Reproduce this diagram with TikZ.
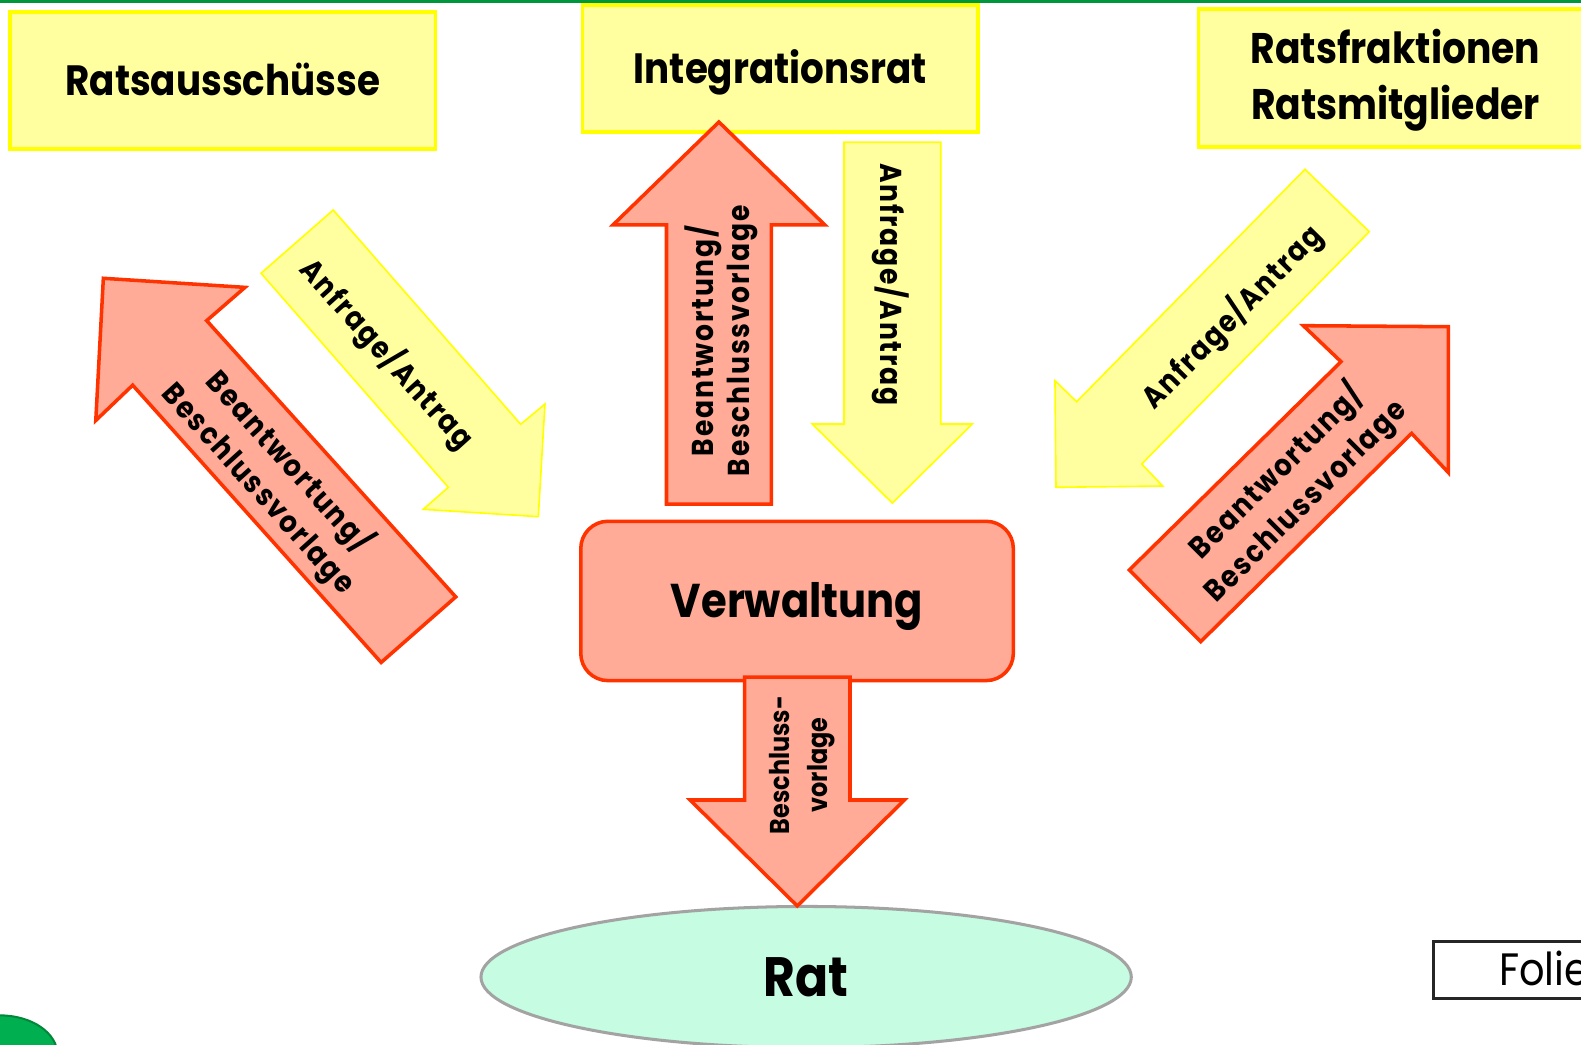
\documentclass[tikz,border=0pt]{standalone}
\usepackage{fontspec}
\usetikzlibrary{shapes.geometric}
\newfontfamily\fbold{Poppins Bold}[FakeStretch=0.88]
\newfontfamily\fboldls{Poppins Bold}[FakeStretch=0.88,LetterSpace=6]
\newfontfamily\freg{Poppins}[FakeStretch=0.88]
\newcommand\fsz[2]{\fontsize{#1}{#2}\selectfont}
\definecolor{ylfill}{HTML}{FFFFA0}
\definecolor{ylline}{HTML}{FFFF00}
\definecolor{rdfill}{HTML}{FFAB98}
\definecolor{rdline}{HTML}{FF3300}
\definecolor{mint}{HTML}{C6FCE1}
\definecolor{ratline}{HTML}{A3A3A3}
\definecolor{topgreen}{HTML}{00963C}
\definecolor{blobfill}{HTML}{00B050}
\definecolor{blobline}{HTML}{00873A}
\begin{document}
\begin{tikzpicture}[x=1pt,y=-1pt,
  ybox/.style={draw=ylline, fill=ylfill, line width=3.5pt, inner sep=0pt, text depth=0pt},
  rbox/.style={draw=rdline, fill=rdfill, line width=3.5pt, rounded corners=27pt, inner sep=0pt, text depth=0pt},
  redarr/.style={draw=rdline, fill=rdfill, line width=3.5pt},
  yelarr/.style={draw=ylline, fill=ylfill, line width=1.6pt},
  lbl/.style={inner sep=0pt, align=center, text depth=0pt}]
\useasboundingbox (0,0) rectangle (1568,1036.4);
\fill[topgreen] (0,0) rectangle (1568,3.2);
% boxes
\node[ybox, minimum width=422, minimum height=136, text height=30pt, font=\fbold\fsz{42}{50}] (ausschuss) at (221,80) {Ratsausschüsse};
\node[ybox, minimum width=392, minimum height=126, text height=30pt, font=\fbold\fsz{42}{50}] (integration) at (773.8,67.8) {Integrationsrat};
\node[ybox, anchor=north west, minimum width=420, minimum height=136.5] (fraktionen) at (1187,7.3) {};
\node[lbl, font=\fbold\fsz{42.5}{55.5}, text height=85.5pt] (fraktxt) at (1384,75.5) {Ratsfraktionen\\Ratsmitglieder};
\node[rbox, minimum width=429, minimum height=158, text height=33pt, font=\fbold\fsz{47}{50}] (verwaltung) at (790.5,596) {Verwaltung};
\node[draw=ratline, fill=mint, line width=3pt, ellipse, inner sep=0pt, minimum width=645, minimum height=140, text height=39pt, text depth=0pt, font=\fbold\fsz{55}{60}] (rat) at (799.5,969) {Rat};
\node[draw=black!85, line width=3pt, fill=white, anchor=north west, minimum width=200, minimum height=56.5] (folie) at (1420.5,932) {};
\node[anchor=base west, inner sep=0pt, font=\freg\fsz{45}{50}] (folietxt) at (1486.6,977) {Folie};
\filldraw[fill=blobfill, draw=blobline, line width=2pt] (0,1046) ellipse [x radius=57, y radius=39];
% block arrows
\filldraw[redarr] (661,500) -- (661,223) -- (608,223) -- (713,121) -- (818,223) -- (765,223) -- (765,500) -- cycle;
\filldraw[yelarr] (837,141) -- (933,141) -- (933,420.5) -- (964.3,420.5) -- (885,499) -- (805.6,420.5) -- (837,420.5) -- cycle;
\filldraw[redarr] (102.5,276) -- (243,285) -- (205,318) -- (452,592) -- (378,657) -- (131.6,382) -- (95,417) -- cycle;
\filldraw[yelarr] (258.9,271) -- (330.5,208.3) -- (516.4,420.8) -- (540.5,400.7) -- (533.9,512.4) -- (419.8,505.1) -- (444.6,483.3) -- cycle;
\filldraw[yelarr] (1294.3,167.9) -- (1358,229.8) -- (1132.3,460.2) -- (1153.1,482) -- (1047.3,483.3) -- (1046.3,377.5) -- (1067.8,398.4) -- cycle;
\filldraw[redarr] (1292.6,323) -- (1436.4,324) -- (1436.4,468.6) -- (1400,429.8) -- (1190.8,636.4) -- (1120,565.3) -- (1330,358.7) -- cycle;
\filldraw[redarr] (738.4,671.6) -- (843,671.6) -- (843,793.4) -- (897,793.4) -- (790.7,898.5) -- (684.4,793.4) -- (738.4,793.4) -- cycle;
% labels
\node[lbl, rotate=90, font=\fboldls\fsz{30}{35.5}, text height=56.5pt] (l1) at (715,338) {Beantwortung/\\Beschlussvorlage};
\node[lbl, rotate=-90, font=\fboldls\fsz{30}{36}, text height=21pt] (l2) at (884,282) {Anfrage/Antrag};
\node[lbl, rotate=-48, font=\fboldls\fsz{30}{40}, text height=61pt] (l3) at (272,471) {Beantwortung/\\Beschlussvorlage};
\node[lbl, rotate=-48, font=\fboldls\fsz{30}{36}, text height=21pt] (l4) at (384,351) {Anfrage/Antrag};
\node[lbl, rotate=45.5, font=\fboldls\fsz{30}{36}, text height=21pt] (l5) at (1221.5,314) {Anfrage/Antrag};
\node[lbl, rotate=45, font=\fboldls\fsz{30}{41}, text height=62pt] (l6) at (1280,482) {Beantwortung/\\Beschlussvorlage};
\node[lbl, rotate=90, font=\fbold\fsz{27}{37.7}, text height=56.7pt] (l7) at (792.6,758.7) {Beschluss-\\vorlage};
\end{tikzpicture}
\end{document}
